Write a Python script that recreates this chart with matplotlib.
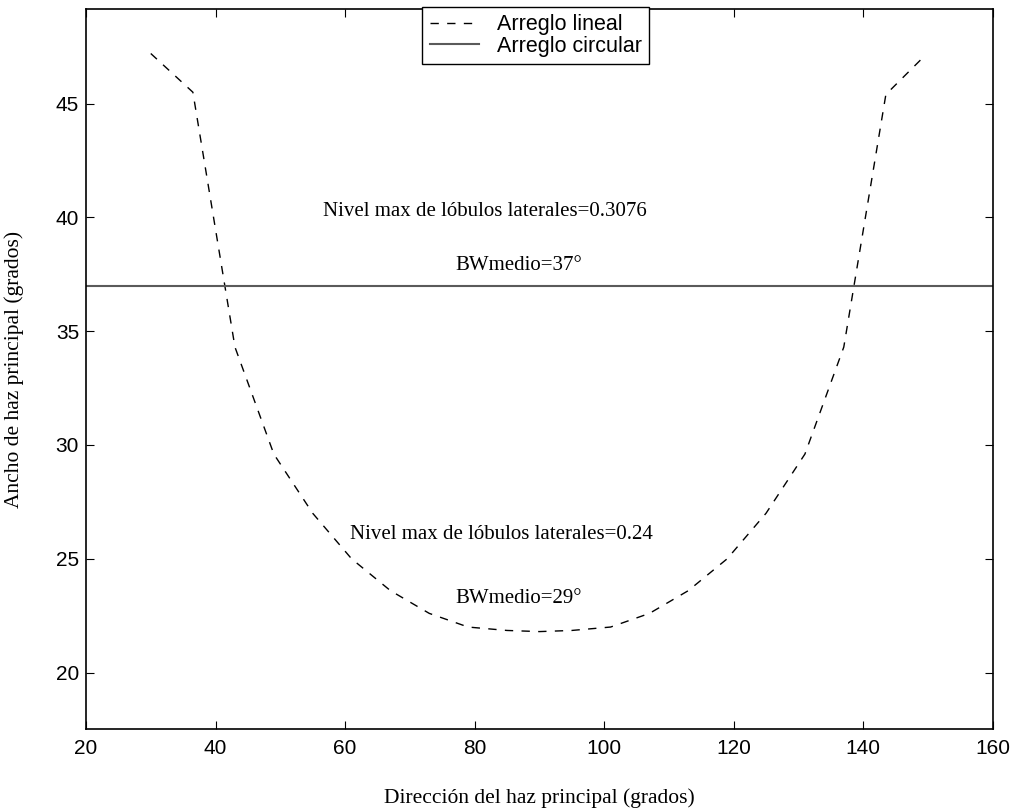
import matplotlib.pyplot as plt

# beam direction (deg) vs main beam width (deg)
direccion = [30, 36.5, 43, 49, 55, 61, 67, 73, 79, 85, 90,
             95, 101, 107, 113, 119, 125, 131, 137, 143.5, 149.5]
ancho_lineal = [47.2, 45.5, 34.3, 29.6, 27.0, 25.0, 23.6, 22.6, 22.0, 21.85, 21.8,
                21.85, 22.0, 22.6, 23.6, 25.0, 27.0, 29.6, 34.3, 45.4, 47.1]
bw_circular = 37

xticks = [20, 40, 60, 80, 100, 120, 140, 160]
yticks = [20, 25, 30, 35, 40, 45]

serif = "Liberation Serif"
sans = "Liberation Sans"

fig = plt.figure(figsize=(10.13, 8.1), dpi=100)
ax = fig.add_axes([0.0849, 0.1, 0.8951, 0.889])

ax.plot(direccion, ancho_lineal, color="k", lw=1.0, ls=(0, (6, 6)),
        label="Arreglo lineal")
ax.axhline(bw_circular, color="#5a5a5a", lw=1.5, label="Arreglo circular")

ax.text(56.6, 40.25, "Nivel max de lóbulos laterales=0.3076",
        family=serif, fontsize=15, va="center")
ax.text(77.0, 37.9, "BWmedio=37°", family=serif, fontsize=15, va="center")
ax.text(60.8, 26.07, "Nivel max de lóbulos laterales=0.24",
        family=serif, fontsize=15, va="center")
ax.text(77.0, 23.26, "BWmedio=29°", family=serif, fontsize=15, va="center")

ax.set_xlim(20, 160)
ax.set_ylim(17.52, 49.16)
ax.set_xticks(xticks)
ax.set_yticks(yticks)
ax.tick_params(direction="in", length=6, width=0.8, top=True, right=True,
               labelsize=15)
ax.tick_params(axis="x", pad=7)
ax.tick_params(axis="y", pad=5)
for lab in ax.get_xticklabels() + ax.get_yticklabels():
    lab.set_family(sans)
for sp in ax.spines.values():
    sp.set_linewidth(1.2)

ax.set_xlabel("Dirección del haz principal (grados)", family=serif,
              fontsize=15.5)
ax.set_ylabel("Ancho de haz principal (grados)", family=serif,
              fontsize=15.5)
ax.xaxis.set_label_coords(0.5, -0.082)
ax.yaxis.set_label_coords(-0.068, 0.5)

leg = ax.legend(loc="upper left", bbox_to_anchor=(0.371, 1.003),
                prop={"family": sans, "size": 15.5}, fancybox=False,
                edgecolor="k", framealpha=1, borderpad=0.35,
                labelspacing=0.02, handlelength=2.3, handletextpad=0.8,
                borderaxespad=0)
leg.get_frame().set_linewidth(1.0)

fig.savefig("out.png", dpi=100)
